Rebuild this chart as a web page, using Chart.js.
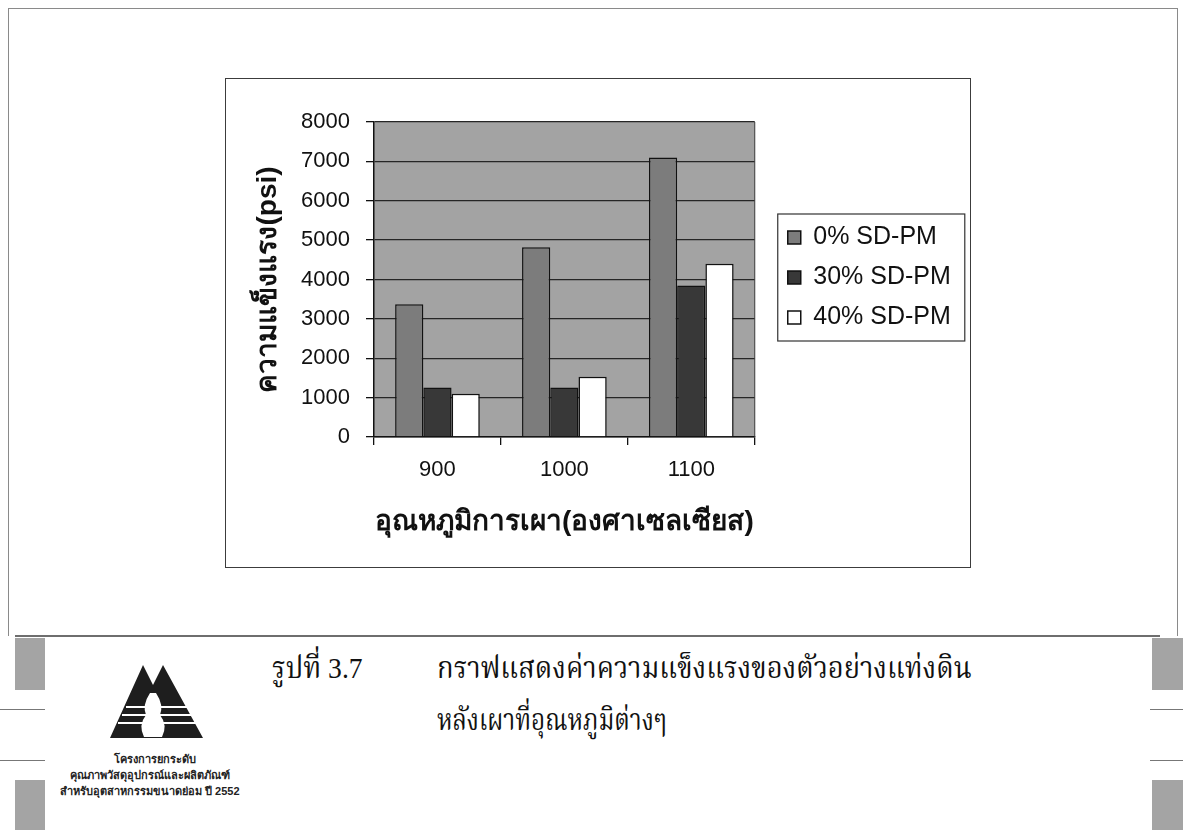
<!DOCTYPE html>
<html lang="th">
<head>
<meta charset="utf-8">
<title>ความแข็งแรงของตัวอย่างแท่งดิน</title>
<script src="https://cdn.jsdelivr.net/npm/chart.js@4.4.1/dist/chart.umd.min.js"></script>
<style>
  html, body { margin: 0; padding: 0; background: #fff; }
  body { width: 1183px; height: 830px; position: relative; overflow: hidden; font-family: 'Liberation Sans', sans-serif; }
  .page-frame { position: absolute; left: 8px; top: 8px; width: 1170px; height: 628px; border: 1px solid #8a8a8a; border-bottom: none; box-sizing: border-box; }
  .rule { position: absolute; left: 15px; top: 635px; width: 1145px; height: 2px; background: #6e6e6e; }
  .block { position: absolute; background: #a4a4a4; }
  .tick-line { position: absolute; height: 1px; background: #777; }
  #chartBox { position: absolute; left: 225px; top: 78px; width: 746px; height: 490px; }
  .chart-frame { position: absolute; left: 225px; top: 78px; width: 746px; height: 490px; border: 1.5px solid #3c3c3c; box-sizing: border-box; pointer-events: none; }
  .caption { position: absolute; font-family: 'Liberation Serif', 'Noto Serif Thai', serif; color: #111; font-size: 30px; white-space: nowrap; transform-origin: left center; }
  .logo-text { position: absolute; font-family: 'Liberation Sans', sans-serif; font-weight: bold; font-size: 11px; color: #222; white-space: nowrap; text-align: center; }
</style>
</head>
<body>
<div class="page-frame"></div>
<div class="rule"></div>
<div class="block" style="left:15px;top:638px;width:30px;height:52px"></div>
<div class="block" style="left:15px;top:780px;width:30px;height:50px"></div>
<div class="block" style="left:1152px;top:638px;width:31px;height:52px"></div>
<div class="block" style="left:1152px;top:780px;width:31px;height:50px"></div>
<div class="tick-line" style="left:0;top:709px;width:45px"></div>
<div class="tick-line" style="left:0;top:760px;width:45px"></div>
<div class="tick-line" style="left:1150px;top:709px;width:33px"></div>
<div class="tick-line" style="left:1150px;top:760px;width:33px"></div>

<div id="chartBox"><canvas id="strengthChart"></canvas></div>
<div class="chart-frame"></div>

<!-- ตราโครงการ -->
<svg style="position:absolute;left:100px;top:655px" width="110" height="90" viewBox="0 0 110 90">
  <polygon points="10,83 43,10 53,30 63,10 103,83" fill="#1e1e1e"/>
  <g stroke="#fff" stroke-width="2.2">
    <line x1="26" y1="52" x2="90" y2="52"/>
    <line x1="22" y1="60" x2="94" y2="60"/>
    <line x1="18" y1="68" x2="98" y2="68"/>
  </g>
  <path d="M50 38 Q42 50 46 60 Q38 70 44 82 L62 82 Q68 70 60 60 Q64 50 56 38 Z" fill="#fff"/>
</svg>
<div class="logo-text" style="left:100px;top:750px;width:110px">โครงการยกระดับ</div>
<div class="logo-text" style="left:70px;top:766px;width:142px">คุณภาพวัสดุอุปกรณ์และผลิตภัณฑ์</div>
<div class="logo-text" style="left:60px;top:782px;width:160px">สำหรับอุตสาหกรรมขนาดย่อม ปี 2552</div>

<div class="caption" style="left:272px;top:646px;transform:scaleX(0.92)">รูปที่ 3.7</div>
<div class="caption" style="left:437px;top:646px;transform:scaleX(0.91)">กราฟแสดงค่าความแข็งแรงของตัวอย่างแท่งดิน</div>
<div class="caption" style="left:437px;top:698px;transform:scaleX(0.81)">หลังเผาที่อุณหภูมิต่างๆ</div>

<script>
// อุณหภูมิการเผา (องศาเซลเซียส)
const temperatures = ['900', '1000', '1100'];
const seriesNames = ['0% SD-PM', '30% SD-PM', '40% SD-PM'];
// ความแข็งแรง (psi)
const strength0 = [3370, 4820, 7100];
const strength30 = [1260, 1260, 3850];
const strength40 = [1100, 1530, 4400];
const yMax = 8000;
const yStep = 1000;

const seriesColors = ['#7c7c7c', '#383838', '#ffffff'];

const tickFont = { family: "'Liberation Sans', Arial, sans-serif", size: 22 };
const titleFont = { family: "'Liberation Sans', Tahoma, sans-serif", size: 28, weight: 'bold' };

// พื้นหลังสีเทาของพื้นที่กราฟ
const plotBackground = {
    id: 'plotBackground',
    beforeDraw(chart) {
        const { ctx, chartArea: a } = chart;
        ctx.save();
        ctx.fillStyle = '#a3a3a3';
        ctx.fillRect(a.left, a.top, a.right - a.left, a.bottom - a.top);
        ctx.restore();
    },
    beforeDatasetsDraw(chart) {
        const { ctx, chartArea: a } = chart;
        ctx.save();
        ctx.strokeStyle = '#3a3a3a';
        ctx.lineWidth = 1;
        ctx.beginPath();
        ctx.moveTo(a.right, a.top);
        ctx.lineTo(a.right, a.bottom);
        ctx.stroke();
        ctx.restore();
    }
};

// ขยับคำอธิบายออกจากกราฟ แล้ววาดกรอบล้อมรอบ
const legendFrame = {
    id: 'legendFrame',
    afterLayout(chart) {
        const lg = chart.legend;
        lg.left += 18; lg.right += 38; lg.width += 20;
        lg.top -= 53; lg.bottom -= 53;
    },
    afterDraw(chart) {
        const boxes = chart.legend.legendHitBoxes;
        if (!boxes || !boxes.length) return;
        const left = Math.min(...boxes.map(b => b.left)) - 10;
        const right = Math.max(...boxes.map(b => b.left + b.width)) + 14;
        const top = boxes[0].top - 11;
        const last = boxes[boxes.length - 1];
        const bottom = last.top + last.height + 11;
        const ctx = chart.ctx;
        ctx.save();
        ctx.strokeStyle = '#333';
        ctx.lineWidth = 1.2;
        ctx.strokeRect(left, top, right - left, bottom - top);
        ctx.restore();
    }
};

new Chart(document.getElementById('strengthChart'), {
    type: 'bar',
    data: {
        labels: temperatures,
        datasets: [strength0, strength30, strength40].map((values, i) => ({
            label: seriesNames[i],
            data: values,
            backgroundColor: seriesColors[i],
            borderColor: '#111',
            borderWidth: 1.5,
            categoryPercentage: 0.667,
            barPercentage: 1.0
        }))
    },
    options: {
        responsive: true,
        maintainAspectRatio: false,
        animation: false,
        layout: { padding: { top: 44, left: 10, bottom: 29, right: 43 } },
        plugins: {
            tooltip: { enabled: false },
            legend: {
                position: 'right',
                labels: {
                    color: '#111',
                    font: { family: "'Liberation Sans', Arial, sans-serif", size: 25 },
                    boxWidth: 13,
                    boxHeight: 13,
                    padding: 15
                }
            }
        },
        scales: {
            x: {
                offset: true,
                afterFit(scale) { scale.height = 102; },
                grid: { offset: true, drawOnChartArea: false, tickLength: 8, color: '#111', lineWidth: 1.3 },
                border: { color: '#111', width: 1.5 },
                ticks: { color: '#111', font: tickFont, padding: 12 },
                title: {
                    display: true,
                    text: 'อุณหภูมิการเผา(องศาเซลเซียส)',
                    color: '#111',
                    font: titleFont,
                    padding: { top: 20, bottom: 0 }
                }
            },
            y: {
                min: 0,
                max: yMax,
                afterFit(scale) { scale.width = 139; },
                ticks: { stepSize: yStep, color: '#111', font: tickFont, padding: 16, callback: value => value },
                grid: { color: '#262626', lineWidth: 1.3, tickLength: 8, tickColor: '#111' },
                border: { color: '#111', width: 1.5 },
                title: {
                    display: true,
                    text: 'ความแข็งแรง(psi)',
                    color: '#111',
                    font: titleFont,
                    padding: { top: 16, bottom: 10 }
                }
            }
        }
    },
    plugins: [plotBackground, legendFrame]
});
</script>
</body>
</html>
